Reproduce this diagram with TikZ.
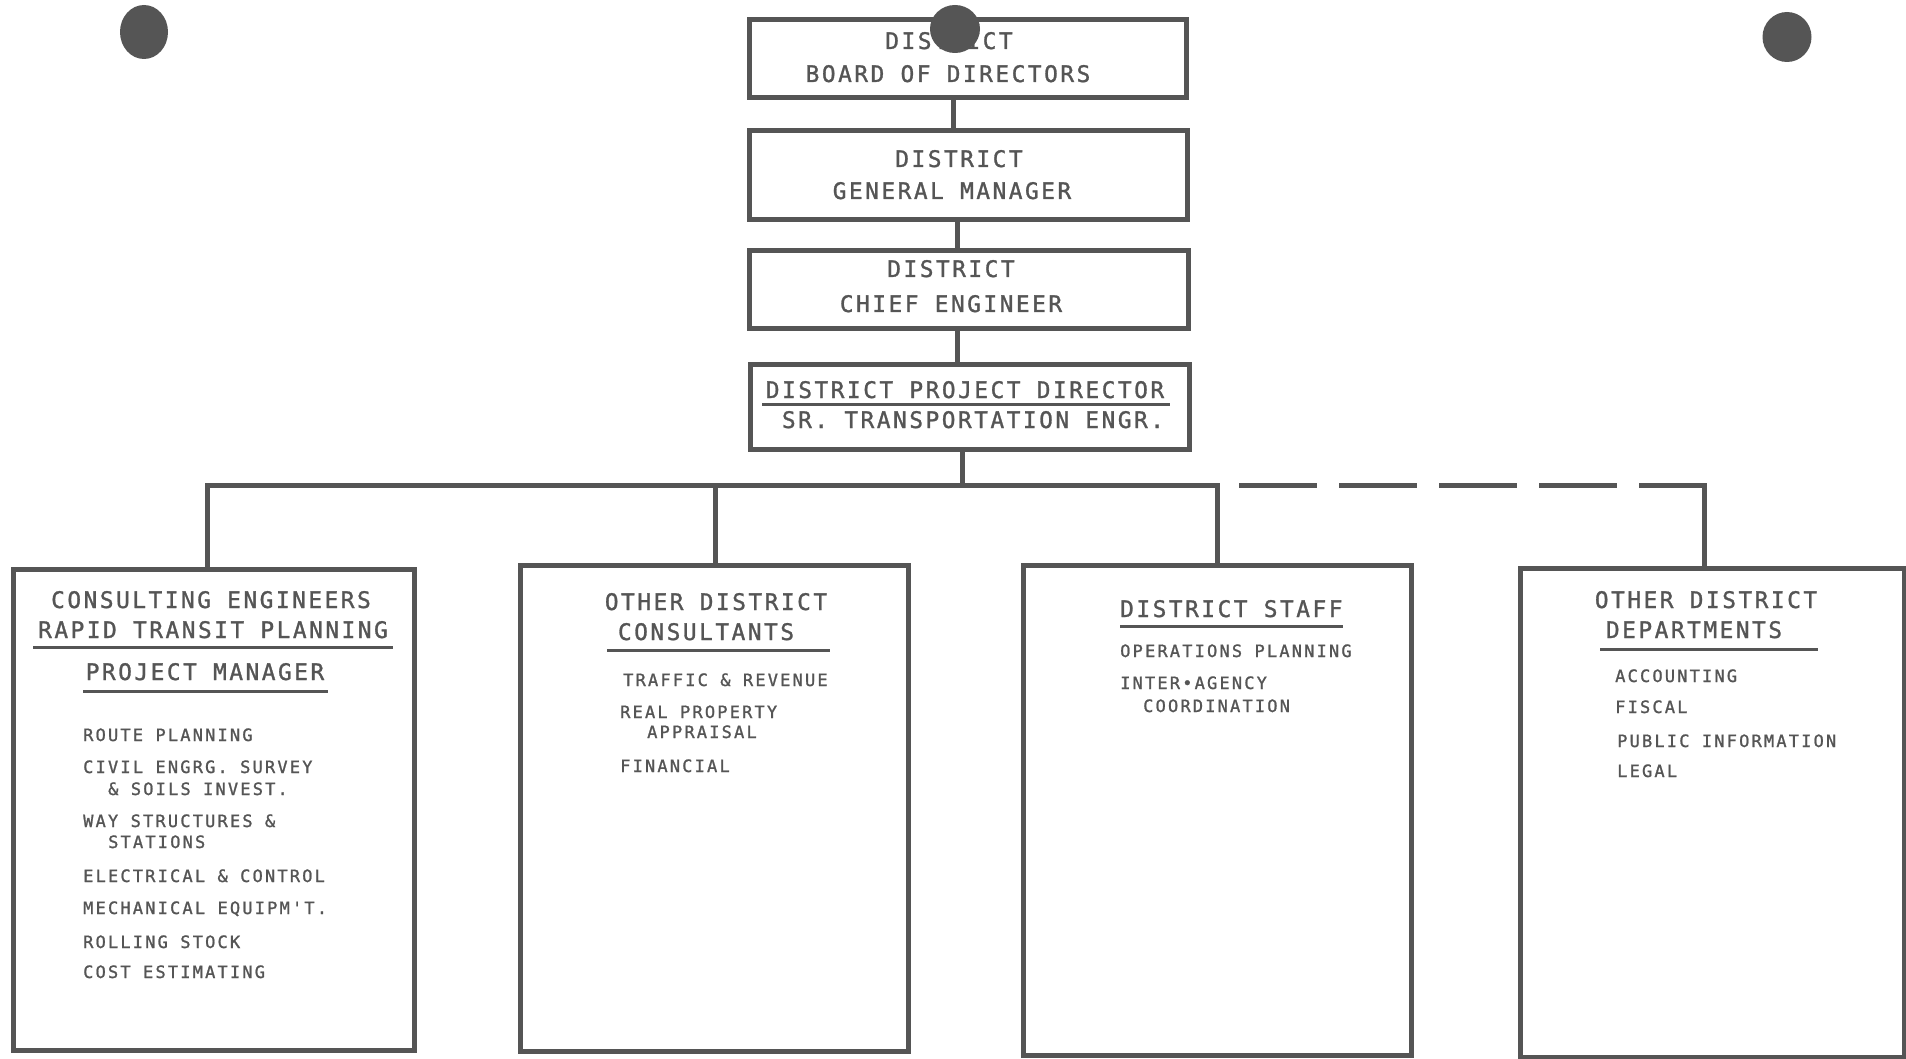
\documentclass[tikz,border=0pt]{standalone}
\usepackage{fontspec}
\newfontfamily\hdfont[LetterSpace=11,FakeBold=1.2]{DejaVu Sans Mono}
\newfontfamily\itfont[LetterSpace=12.8,FakeBold=1.2]{DejaVu Sans Mono}
\definecolor{ink}{HTML}{555555}
\tikzset{
  box/.style={draw=ink, line width=5pt, anchor=north west, inner sep=0pt},
  wire/.style={draw=ink, line width=5pt},
  dashwire/.style={wire, dash pattern=on 78pt off 22pt, dash phase=78pt},
  hd/.style={text=ink, font=\hdfont\fontsize{22.8}{24}\selectfont, inner sep=0pt, anchor=base},
  hdl/.style={hd, anchor=base west},
  itm/.style={text=ink, font=\itfont\fontsize{17}{18}\selectfont, inner sep=0pt, anchor=base west},
  uline/.style={draw=ink, line width=3pt},
  hole/.style={fill=ink},
}
\begin{document}
\begin{tikzpicture}[x=1pt,y=-1pt]
\fill[white] (0,0) rectangle (1906,1059);
\useasboundingbox (0,0) rectangle (1906,1059);

% top chain boxes
\node[box, minimum width=437pt, minimum height=78pt] (b1) at (747,17) {};
\node[box, minimum width=438pt, minimum height=89pt] (b2) at (747,128) {};
\node[box, minimum width=439pt, minimum height=78pt] (b3) at (747,248) {};
\node[box, minimum width=439pt, minimum height=85pt] (b4) at (748,362) {};

% bottom boxes
\node[box, minimum width=401pt, minimum height=481pt] (bA) at (11,567) {};
\node[box, minimum width=388pt, minimum height=486pt] (bB) at (518,563) {};
\node[box, minimum width=388pt, minimum height=490pt] (bC) at (1021,563) {};
\node[box, minimum width=384pt, minimum height=489pt] (bD) at (1518,566) {};

% connector coordinates
\coordinate (j1) at (953,0);
\coordinate (j2) at (957,0);
\coordinate (j3) at (957,0);
\coordinate (stem) at (962,485);
\coordinate (busL) at (207,485);
\coordinate (busB) at (715,485);
\coordinate (busC) at (1217,485);
\coordinate (busD) at (1704,485);

\draw[wire] (b1.south -| j1) -- (b2.north -| j1);
\draw[wire] (b2.south -| j2) -- (b3.north -| j2);
\draw[wire] (b3.south -| j3) -- (b4.north -| j3);
\draw[wire] (b4.south -| stem) -- (stem);
\draw[wire, line join=miter] (bA.north -| busL) -- (busL) -- (busC) -- (bC.north -| busC);
\draw[wire] (busB) -- (bB.north -| busB);
\draw[dashwire] (busC) -- (busD);
\draw[wire, line cap=rect] (busD) -- (bD.north -| busD);

% top texts
\node[hd] (t1a) at (949,49) {DISTRICT};
\node[hd] (t1b) at (948,82) {BOARD OF DIRECTORS};
\node[hd] (t2a) at (959,167) {DISTRICT};
\node[hd] (t2b) at (952,199) {GENERAL MANAGER};
\node[hd] (t3a) at (951,277) {DISTRICT};
\node[hd] (t3b) at (951,312) {CHIEF ENGINEER};
\node[hd] (t4a) at (965,398) {DISTRICT PROJECT DIRECTOR};
\draw[uline] (762,404) -- (1170,404);
\node[hd] (t4b) at (973,428) {SR. TRANSPORTATION ENGR.};

% box A
\node[hd] (ta1) at (211,608) {CONSULTING ENGINEERS};
\node[hd] (ta2) at (213,638) {RAPID TRANSIT PLANNING};
\draw[uline] (33,647) -- (393,647);
\node[hd] (ta3) at (205,680) {PROJECT MANAGER};
\draw[uline] (83,691) -- (328,691);
\node[itm] (ia1) at (83,741) {ROUTE PLANNING};
\node[itm] (ia2) at (83,773) {CIVIL ENGRG. SURVEY};
\node[itm] (ia3) at (108,795) {\& SOILS INVEST.};
\node[itm] (ia4) at (83,827) {WAY STRUCTURES \&};
\node[itm] (ia5) at (108,848) {STATIONS};
\node[itm] (ia6) at (83,882) {ELECTRICAL \& CONTROL};
\node[itm] (ia7) at (83,914) {MECHANICAL EQUIPM'T.};
\node[itm] (ia8) at (83,948) {ROLLING STOCK};
\node[itm] (ia9) at (83,978) {COST ESTIMATING};

% box B
\node[hd] (tb1) at (716,610) {OTHER DISTRICT};
\node[hd] (tb2) at (706,640) {CONSULTANTS};
\draw[uline] (607,650) -- (830,650);
\node[itm] (ib1) at (623,686) {TRAFFIC \& REVENUE};
\node[itm] (ib2) at (620,718) {REAL PROPERTY};
\node[itm] (ib3) at (647,738) {APPRAISAL};
\node[itm] (ib4) at (620,772) {FINANCIAL};

% box C
\node[hdl] (tc1) at (1120,617) {DISTRICT STAFF};
\draw[uline] (1120,626) -- (1343,626);
\node[itm] (ic1) at (1120,657) {OPERATIONS PLANNING};
\node[itm] (ic2) at (1120,689) {INTER•AGENCY};
\node[itm] (ic3) at (1143,712) {COORDINATION};

% box D
\node[hd] (td1) at (1706,608) {OTHER DISTRICT};
\node[hd] (td2) at (1694,638) {DEPARTMENTS};
\draw[uline] (1600,649) -- (1818,649);
\node[itm] (id1) at (1615,682) {ACCOUNTING};
\node[itm] (id2) at (1615,713) {FISCAL};
\node[itm] (id3) at (1617,747) {PUBLIC INFORMATION};
\node[itm] (id4) at (1617,777) {LEGAL};

% punch holes
\fill[hole] (144,32) ellipse [x radius=24, y radius=27];
\fill[hole] (1787,37) ellipse [x radius=24.5, y radius=25];
\fill[hole] (955,29) ellipse [x radius=25, y radius=24];
\end{tikzpicture}
\end{document}
